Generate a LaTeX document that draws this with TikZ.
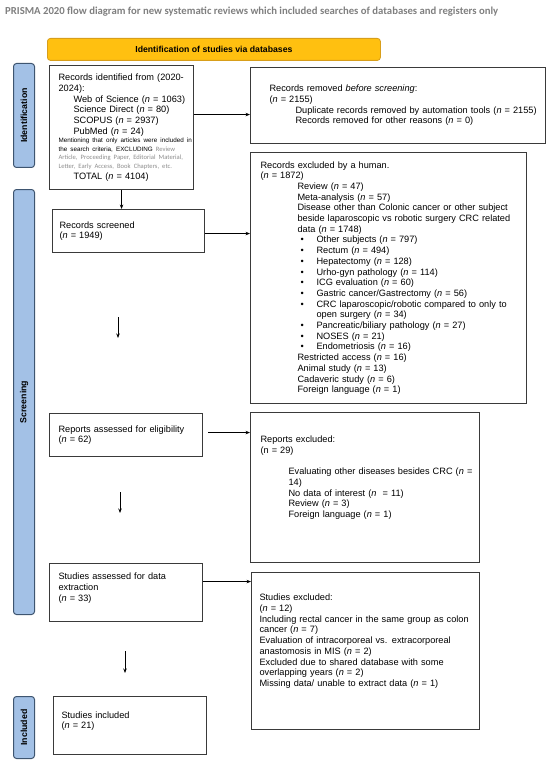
\documentclass[tikz,border=0pt]{standalone}
\usepackage{fontspec}
\setmainfont{Liberation Sans}
\newfontfamily\calfont{Carlito}
\usetikzlibrary{arrows.meta}
\definecolor{boxc}{HTML}{3A3A3A}
\definecolor{barfill}{HTML}{A3C1E6}
\definecolor{bardraw}{HTML}{3E5570}
\definecolor{yel}{HTML}{FFC010}
\definecolor{yeld}{HTML}{D89E1A}
\definecolor{ttl}{HTML}{7F7F7F}
\definecolor{grtx}{HTML}{8C8C8C}
\setlength{\parindent}{0pt}
\begin{document}
\begin{tikzpicture}[x=1pt,y=-1pt,
  box/.style={draw=boxc, line width=1.1pt, inner xsep=0pt, inner ysep=2pt, align=left, anchor=north west, font=\fontsize{9.2}{10.7}\selectfont},
  sidebar/.style={draw=bardraw, fill=barfill, line width=1pt, rounded corners=3pt, anchor=north west, minimum width=21pt, inner sep=0pt},
  sidelabel/.style={rotate=90, font=\bfseries\fontsize{8.8}{10}\selectfont, inner sep=0pt},
  arr/.style={-{Stealth[length=4.5pt,width=3.5pt]}, line width=0.7pt, black}]
\useasboundingbox (0,0) rectangle (550,762);

\node[anchor=west, font=\calfont\bfseries\fontsize{10.7}{12}\selectfont, text=ttl, inner sep=0pt] (title) at (5,12) {PRISMA 2020 flow diagram for new systematic reviews which included searches of databases and registers only};

\node[draw=yeld, fill=yel, rounded corners=3pt, line width=0.8pt, minimum width=333pt, minimum height=22pt, anchor=north west, font=\bfseries\fontsize{8.7}{10}\selectfont, inner sep=0pt] (yellow) at (47,38) {Identification of studies via databases};

\node[sidebar, minimum height=104pt] (idbar) at (13,63) {};
\node[sidelabel] (idlab) at (idbar.center) {Identification};
\node[sidebar, minimum height=425pt] (scrbar) at (13,189) {};
\node[sidelabel] (scrlab) at (scrbar.center) {Screening};
\node[sidebar, minimum height=62pt] (incbar) at (13,696) {};
\node[sidelabel] (inclab) at (incbar.center) {Included};

\node[box, text width=144pt, minimum height=124pt] (ident) at (49,65) {\leftskip=9pt
Records identified from (2020-\\
2024):\\
\hspace*{15pt}Web of Science (\textit{n} = 1063)\\
\hspace*{15pt}Science Direct (\textit{n} = 80)\\
\hspace*{15pt}SCOPUS (\textit{n} = 2937)\\
\hspace*{15pt}PubMed (\textit{n} = 24)\par
{\fontsize{6.3}{8.6}\selectfont \mbox{Mentioning that only articles were included in}\\
\mbox{the search criteria, EXCLUDING {\calfont\color{grtx}\fontsize{6.6}{8.6}\selectfont Review}}\\
\mbox{\calfont\color{grtx}\fontsize{6.6}{8.6}\selectfont Article, Proceeding Paper, Editorial Material,}\\
\mbox{\calfont\color{grtx}\fontsize{6.6}{8.6}\selectfont Letter, Early Access, Book Chapters, etc.}\par}
\hspace*{15pt}TOTAL (\textit{n} = 4104)\par};

\node[box, text width=295pt, minimum height=76pt] (removed) at (250,67) {\leftskip=19pt
Records removed \textit{before screening}:\\
(\textit{n} = 2155)\\
\hspace*{26pt}\mbox{Duplicate records removed by automation tools (\textit{n} = 2155)}\\
\hspace*{26pt}Records removed for other reasons (\textit{n} = 0)\par};

\node[box, text width=152pt, minimum height=43pt] (screened) at (52,209) {\leftskip=7pt
Records screened\\
(\textit{n} = 1949)\par};

\node[box, text width=276pt, minimum height=251pt] (excluded) at (250,152) {\leftskip=10pt
Records excluded by a human.\\
(\textit{n} = 1872)\\
\hspace*{37pt}Review (\textit{n} = 47)\\
\hspace*{37pt}Meta-analysis (\textit{n} = 57)\\
\hspace*{37pt}\mbox{Disease other than Colonic cancer or other subject}\\
\hspace*{37pt}\mbox{beside laparoscopic vs robotic surgery CRC related}\\
\hspace*{37pt}data (\textit{n} = 1748)\\
\hspace*{40pt}\makebox[16pt][l]{•}Other subjects (\textit{n} = 797)\\
\hspace*{40pt}\makebox[16pt][l]{•}Rectum (\textit{n} = 494)\\
\hspace*{40pt}\makebox[16pt][l]{•}Hepatectomy (\textit{n} = 128)\\
\hspace*{40pt}\makebox[16pt][l]{•}Urho-gyn pathology (\textit{n} = 114)\\
\hspace*{40pt}\makebox[16pt][l]{•}ICG evaluation (\textit{n} = 60)\\
\hspace*{40pt}\makebox[16pt][l]{•}Gastric cancer/Gastrectomy (\textit{n} = 56)\\
\hspace*{40pt}\makebox[16pt][l]{•}\mbox{CRC laparoscopic/robotic compared to only to}\\
\hspace*{56pt}open surgery (\textit{n} = 34)\\
\hspace*{40pt}\makebox[16pt][l]{•}Pancreatic/biliary pathology (\textit{n} = 27)\\
\hspace*{40pt}\makebox[16pt][l]{•}NOSES (\textit{n} = 21)\\
\hspace*{40pt}\makebox[16pt][l]{•}Endometriosis (\textit{n} = 16)\\
\hspace*{37pt}Restricted access (\textit{n} = 16)\\
\hspace*{37pt}Animal study (\textit{n} = 13)\\
\hspace*{37pt}Cadaveric study (\textit{n} = 6)\\
\hspace*{37pt}Foreign language (\textit{n} = 1)\par};

\node[box, text width=153pt, minimum height=43pt] (repass) at (49,413) {\leftskip=9pt
Reports assessed for eligibility\\
(\textit{n} = 62)\par};

\node[box, text width=229pt, minimum height=150pt] (repex) at (250,412) {\leftskip=10pt
Reports excluded:\\
(n = 29)\\
\mbox{}\\
\hspace*{28pt}\mbox{Evaluating other diseases besides CRC (\textit{n} =}\\
\hspace*{28pt}14)\\
\hspace*{28pt}No data of interest (\textit{n}~~= 11)\\
\hspace*{28pt}Review (\textit{n} = 3)\\
\hspace*{28pt}Foreign language (\textit{n} = 1)\\
\mbox{}\\
\mbox{}\par};

\node[box, text width=153pt, minimum height=58pt] (sa) at (49,563) {\leftskip=9pt
Studies assessed for data\\
extraction\\
(\textit{n} = 33)\\
\mbox{}\par};

\node[box, text width=228pt, minimum height=157pt] (sex) at (251,572) {\leftskip=8pt
Studies excluded:\\
(\textit{n} = 12)\\
\mbox{Including rectal cancer in the same group as colon}\\
cancer (\textit{n} = 7)\\
\mbox{Evaluation of intracorporeal vs. extracorporeal}\\
anastomosis in MIS (\textit{n} = 2)\\
\mbox{Excluded due to shared database with some}\\
overlapping years (\textit{n} = 2)\\
Missing data/ unable to extract data (\textit{n} = 1)\\
\mbox{}\\
\mbox{}\par};

\node[box, text width=153pt, minimum height=58pt] (sinc) at (53,696) {\leftskip=8pt
Studies included\\
(\textit{n} = 21)\\
\mbox{}\par};

\draw[arr] ([yshift=13pt]ident.east) -- ([yshift=13pt]ident.east -| removed.west);
\draw[arr] (ident.south) -- (ident.south |- screened.north);
\draw[arr] ([yshift=-2.5pt]screened.east) -- ([yshift=-2.5pt]screened.east -| excluded.west);
\draw[arr] ([xshift=5pt,yshift=2.5pt]repass.east) -- ([yshift=2.5pt]repass.east -| repex.west);
\draw[arr] ([yshift=11pt]sa.east) -- ([yshift=11pt]sa.east -| sex.west);

\coordinate (f1a) at (118,317);
\coordinate (f1b) at (118,338);
\coordinate (f2a) at (120,492);
\coordinate (f2b) at (120,513);
\coordinate (f3a) at (125,651);
\coordinate (f3b) at (125,673);
\draw[arr] (f1a) -- (f1b);
\draw[arr] (f2a) -- (f2b);
\draw[arr] (f3a) -- (f3b);
\end{tikzpicture}
\end{document}
